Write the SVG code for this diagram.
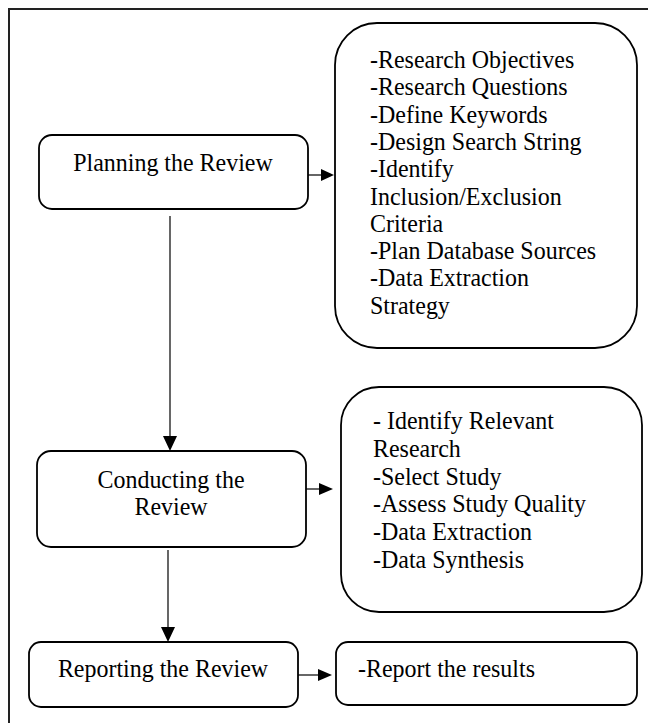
<svg xmlns="http://www.w3.org/2000/svg" width="648" height="723" viewBox="0 0 648 723">
<style>
.box{fill:#fff;stroke:#000;stroke-width:1.8}
.frame{fill:none;stroke:#222;stroke-width:2}
.t{font-family:"Liberation Serif","Times New Roman",serif;font-size:25.5px;fill:#000}
.c{text-anchor:middle}
.ln{stroke:#000;stroke-width:1.2;fill:none}
.ah{fill:#000}
</style>
<rect class="frame" x="9" y="9" width="700" height="800"/>
<g id="planning">
<rect class="box" x="39" y="135" width="269" height="74" rx="13"/>
<text class="t c" transform="translate(173,171) scale(0.94,1)">Planning the Review</text>
</g>
<g id="planning-details">
<rect class="box" x="335" y="23" width="302" height="325" rx="42"/>
<text class="t" transform="translate(370,68) scale(0.94,1)">-Research Objectives</text>
<text class="t" transform="translate(370,95.3) scale(0.94,1)">-Research Questions</text>
<text class="t" transform="translate(370,122.6) scale(0.94,1)">-Define Keywords</text>
<text class="t" transform="translate(370,149.9) scale(0.94,1)">-Design Search String</text>
<text class="t" transform="translate(370,177.2) scale(0.94,1)">-Identify</text>
<text class="t" transform="translate(370,204.5) scale(0.94,1)">Inclusion/Exclusion</text>
<text class="t" transform="translate(370,231.8) scale(0.94,1)">Criteria</text>
<text class="t" transform="translate(370,259.1) scale(0.94,1)">-Plan Database Sources</text>
<text class="t" transform="translate(370,286.4) scale(0.94,1)">-Data Extraction</text>
<text class="t" transform="translate(370,313.7) scale(0.94,1)">Strategy</text>
</g>
<g id="conducting">
<rect class="box" x="37" y="451" width="269" height="96" rx="14"/>
<text class="t c" transform="translate(171,488) scale(0.94,1)">Conducting the</text>
<text class="t c" transform="translate(171,515) scale(0.94,1)">Review</text>
</g>
<g id="conducting-details">
<rect class="box" x="341" y="387" width="301" height="225" rx="38"/>
<text class="t" transform="translate(373,429) scale(0.94,1)">- Identify Relevant</text>
<text class="t" transform="translate(373,456.8) scale(0.94,1)">Research</text>
<text class="t" transform="translate(373,484.6) scale(0.94,1)">-Select Study</text>
<text class="t" transform="translate(373,512.4) scale(0.94,1)">-Assess Study Quality</text>
<text class="t" transform="translate(373,540.2) scale(0.94,1)">-Data Extraction</text>
<text class="t" transform="translate(373,568) scale(0.94,1)">-Data Synthesis</text>
</g>
<g id="reporting">
<rect class="box" x="29" y="642" width="269" height="65" rx="12"/>
<text class="t c" transform="translate(163,677) scale(0.94,1)">Reporting the Review</text>
</g>
<g id="reporting-details">
<rect class="box" x="336" y="642" width="301" height="63" rx="12"/>
<text class="t" transform="translate(358,677) scale(0.94,1)">-Report the results</text>
</g>
<g id="connectors">
<line class="ln" x1="308" y1="175" x2="322" y2="175"/>
<polygon class="ah" points="321,169 334,175 321,181"/>
<line class="ln" x1="170" y1="216" x2="170" y2="437"/>
<polygon class="ah" points="163,436 170,451 177,436"/>
<line class="ln" x1="306" y1="489" x2="320" y2="489"/>
<polygon class="ah" points="319,483 333,489 319,495"/>
<line class="ln" x1="168" y1="550" x2="168" y2="628"/>
<polygon class="ah" points="161,627 168,642 175,627"/>
<line class="ln" x1="298" y1="675" x2="319" y2="675"/>
<polygon class="ah" points="318,669 332,675 318,681"/>
</g>
</svg>
